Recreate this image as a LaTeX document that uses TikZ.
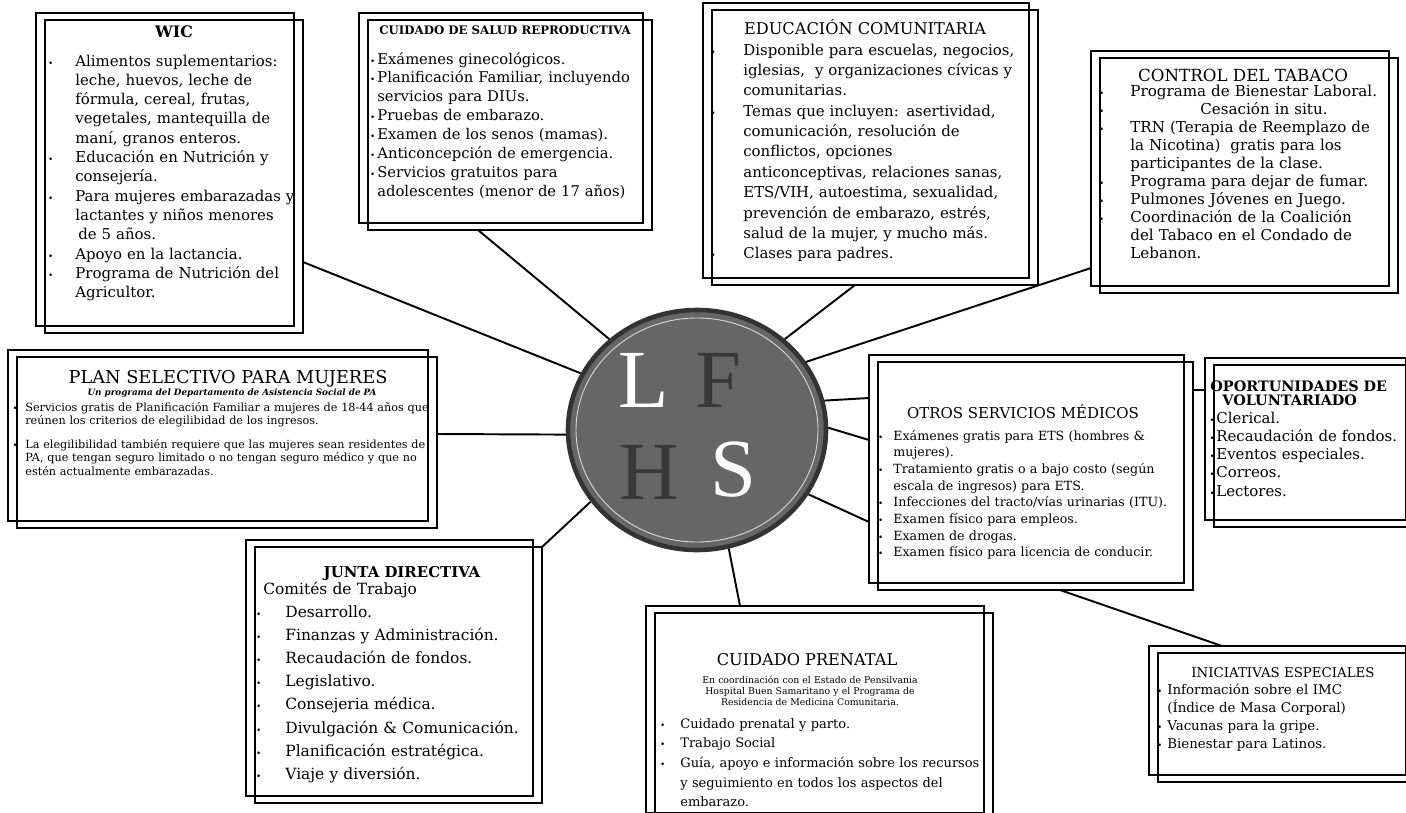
\documentclass[tikz,border=0pt]{standalone}
\usepackage{fontspec}
\setmainfont{DejaVu Serif}
\newfontfamily\hubfont{Liberation Serif}
\usetikzlibrary{calc,shapes.geometric}

\newcommand{\bul}[1][1mm]{\leavevmode\llap{{\tiny\textbullet}\hspace{#1}}}
\newcommand{\fs}[2]{\fontsize{#1}{#2}\selectfont}

\tikzset{
  frame/.style 2 args={draw, line width=1.5pt, anchor=north west,
    inner sep=0pt, outer sep=0pt,
    minimum width=#1*0.2mm, minimum height=#2*0.2mm,
    preaction={draw, line width=1.5pt,
      transform canvas={shift={(-9,-7)}}}},
  head/.style={anchor=base, inner sep=0pt},
  body/.style={anchor=base west, inner sep=0pt, align=left},
  link/.style={line width=1.1pt},
  letter/.style={font=\hubfont\fontsize{47}{47}\selectfont, inner sep=0pt},
}

\begin{document}
\begin{tikzpicture}[x=0.2mm, y=-0.2mm]
\path[use as bounding box, fill=white] (0,0) rectangle (1406,812);

% centre
\node[ellipse, draw=black!80, line width=2.6pt, fill=black!60,
  minimum width=258*0.2mm, minimum height=240*0.2mm, inner sep=0pt] (hub) at (697,430) {};
\draw[black!15, line width=0.5pt] (hub.center) ellipse [x radius=24.2mm, y radius=22.4mm];
\node[letter, text=white] (hl) at (644,380) {L};
\node[letter, text=black!78] (hf) at (718,380) {F};
\node[letter, text=black!78] (hh) at (649,472) {H};
\node[letter, text=white] (hs) at (733,470) {S};

% WIC
\node[frame={258}{313}] (wic) at (45,20) {};
\node[head, font=\bfseries\fs{9}{11}] (wic-h) at (174,37) {WIC};
\node[body, text width=48mm, font=\fs{8.5}{11}] (wic-b) at (75,66) {%
  \bul[4.4mm]Alimentos suplementarios:\\leche, huevos, leche de\\fórmula, cereal, frutas,\\vegetales, mantequilla de\\maní, granos enteros.\\
  \bul[4.4mm]Educación en Nutrición y\\consejería.\\
  \bul[4.4mm]Para mujeres embarazadas y\\lactantes y niños menores\\\hspace*{0.6mm}de 5 años.\\
  \bul[4.4mm]Apoyo en la lactancia.\\
  \bul[4.4mm]Programa de Nutrición del\\Agricultor.};

% salud reproductiva
\node[frame={284}{210}] (repro) at (368,20) {};
\node[head, font=\bfseries\fs{6.7}{8}] (repro-h) at (505,34) {CUIDADO DE SALUD REPRODUCTIVA};
\node[body, text width=55mm, font=\fs{8.4}{10.8}] (repro-b) at (377,64) {%
  \bul[0.4mm]Exámenes ginecológicos.\\
  \bul[0.4mm]Planificación Familiar, incluyendo\\servicios para DIUs.\\
  \bul[0.4mm]Pruebas de embarazo.\\
  \bul[0.4mm]Examen de los senos (mamas).\\
  \bul[0.4mm]Anticoncepción de emergencia.\\
  \bul[0.4mm]Servicios gratuitos para\\adolescentes (menor de 17 años)};

% educacion
\node[frame={326}{275}] (edu) at (712,10) {};
\node[head, font=\fs{9.2}{11}] (edu-h) at (865,34) {EDUCACIÓN COMUNITARIA};
\node[body, text width=59mm, font=\fs{8.5}{11.6}] (edu-b) at (743,55) {%
  \bul[5.5mm]Disponible para escuelas, negocios,\\iglesias,\ \ y organizaciones cívicas y\\comunitarias.\\
  \bul[5.5mm]Temas que incluyen: asertividad,\\comunicación, resolución de\\conflictos, opciones\\anticonceptivas, relaciones sanas,\\ETS/VIH, autoestima, sexualidad,\\prevención de embarazo, estrés,\\salud de la mujer, y mucho más.\\
  \bul[5.5mm]Clases para padres.};

% tabaco
\node[frame={298}{235}] (tabaco) at (1100,58) {};
\node[head, font=\fs{9.5}{11}] (tabaco-h) at (1243,81) {CONTROL DEL TABACO};
\node[body, text width=53mm, font=\fs{8.6}{10.3}] (tabaco-b) at (1130,96) {%
  \bul[5.2mm]Programa de Bienestar Laboral.\\
  \bul[5.2mm]\hspace*{14mm}Cesación in situ.\\
  \bul[5.2mm]TRN (Terapia de Reemplazo de\\la Nicotina)\ \ gratis para los\\participantes de la clase.\\
  \bul[5.2mm]Programa para dejar de fumar.\\
  \bul[5.2mm]Pulmones Jóvenes en Juego.\\
  \bul[5.2mm]Coordinación de la Coalición\\del Tabaco en el Condado de\\Lebanon.};

% plan selectivo
\node[frame={420}{171}] (plan) at (17,357) {};
\node[head, font=\fs{10.1}{12}] (plan-h) at (228,383) {PLAN SELECTIVO PARA MUJERES};
\node[head, font=\bfseries\itshape\fs{5}{6}] (plan-s) at (232,395) {Un programa del Departamento de Asistencia Social de PA};
\node[body, text width=90mm, font=\fs{6.4}{7.65}] (plan-b) at (25,411) {%
  \bul[1.5mm]Servicios gratis de Planificación Familiar a mujeres de 18-44 años que\\reúnen los criterios de elegilibidad de los ingresos.\\[6pt]
  \bul[1.5mm]La elegilibilidad también requiere que las mujeres sean residentes de\\PA, que tengan seguro limitado o no tengan seguro médico y que no\\estén actualmente embarazadas.};

% otros servicios
\node[frame={315}{228}] (otros) at (878,362) {};
\node[head, font=\fs{8.5}{10}] (otros-h) at (1023,418) {OTROS SERVICIOS MÉDICOS};
\node[body, text width=60mm, font=\fs{7.2}{9.5}] (otros-b) at (893,440) {%
  \bul[2mm]Exámenes gratis para ETS (hombres \&\\mujeres).\\
  \bul[2mm]Tratamiento gratis o a bajo costo (según\\escala de ingresos) para ETS.\\
  \bul[2mm]Infecciones del tracto/vías urinarias (ITU).\\
  \bul[2mm]Examen físico para empleos.\\
  \bul[2mm]Examen de drogas.\\
  \bul[2mm]Examen físico para licencia de conducir.};

% voluntariado
\node[frame={201}{162}] (oport) at (1214,365) {};
\node[body, text width=40mm, font=\bfseries\fs{8.2}{8.5}] (oport-h) at (1210,391) {OPORTUNIDADES DE\\\hspace*{2.4mm}VOLUNTARIADO};
\node[body, text width=40mm, font=\fs{8.5}{10.4}] (oport-b) at (1216,423) {%
  \bul[0.3mm]Clerical.\\
  \bul[0.3mm]Recaudación de fondos.\\
  \bul[0.3mm]Eventos especiales.\\
  \bul[0.3mm]Correos.\\
  \bul[0.3mm]Lectores.};

% junta directiva
\node[frame={287}{256}] (junta) at (255,547) {};
\node[head, font=\bfseries\fs{8.5}{10}] (junta-h) at (402,577) {JUNTA DIRECTIVA};
\node[body, text width=50mm, font=\fs{8.8}{13.2}] (junta-b) at (285,594) {%
  \hspace*{-4.4mm}Comités de Trabajo\\
  \bul[4.8mm]Desarrollo.\\
  \bul[4.8mm]Finanzas y Administración.\\
  \bul[4.8mm]Recaudación de fondos.\\
  \bul[4.8mm]Legislativo.\\
  \bul[4.8mm]Consejeria médica.\\
  \bul[4.8mm]Divulgación \& Comunicación.\\
  \bul[4.8mm]Planificación estratégica.\\
  \bul[4.8mm]Viaje y diversión.};

% cuidado prenatal
\node[frame={338}{207}] (prenatal) at (655,613) {};
\node[head, font=\fs{9.2}{11}] (prenatal-h) at (807,665) {CUIDADO PRENATAL};
\node[head, text width=70mm, align=center, font=\fs{5.3}{6.5}] (prenatal-s) at (810,683) {En coordinación con el Estado de Pensilvania\\Hospital Buen Samaritano y el Programa de\\Residencia de Medicina Comunitaria.};
\node[body, text width=62mm, font=\fs{7.4}{11.2}] (prenatal-b) at (680,728) {%
  \bul[3mm]Cuidado prenatal y parto.\\
  \bul[3mm]Trabajo Social\\
  \bul[3mm]Guía, apoyo e información sobre los recursos\\y seguimiento en todos los aspectos del\\embarazo.};

% iniciativas
\node[frame={257}{129}] (inic) at (1158,653) {};
\node[head, font=\fs{7.6}{9}] (inic-h) at (1283,677) {INICIATIVAS ESPECIALES};
\node[body, text width=48mm, font=\fs{7.6}{10.4}] (inic-b) at (1167,694) {%
  \bul[1mm]Información sobre el IMC\\(Índice de Masa Corporal)\\
  \bul[1mm]Vacunas para la gripe.\\
  \bul[1mm]Bienestar para Latinos.};

% connectors
\draw[link] (hub.154) -- ($(wic.north east)+(0,242)$);
\draw[link] (hub.134) -- ($(repro.south west)+(110,0)$);
\draw[link] (hub.46) -- ($(edu.south west)+(143,0)$);
\draw[link] (hub.32) -- ($(tabaco.north west)+(-9,210)$);
\draw[link] (hub.182) -- ($(plan.north east)+(0,77)$);
\draw[link] (hub.13) -- ($(otros.north west)+(-9,36)$);
\draw[link] (hub.1) -- ($(otros.north west)+(-9,78)$);
\draw[link] (hub.-30) -- ($(otros.north west)+(-9,160)$);
\draw[link] (hub.214) -- (junta.north east);
\draw[link] (hub.-75) -- ($(prenatal.north west)+(85,-7)$);
\draw[link] ($(otros.south west)+(182,0)$) -- ($(inic.north west)+(64,-7)$);
\draw[link] ($(otros.north east)+(0,28)$) -- ($(oport.north west)+(-9,25)$);
\end{tikzpicture}
\end{document}
